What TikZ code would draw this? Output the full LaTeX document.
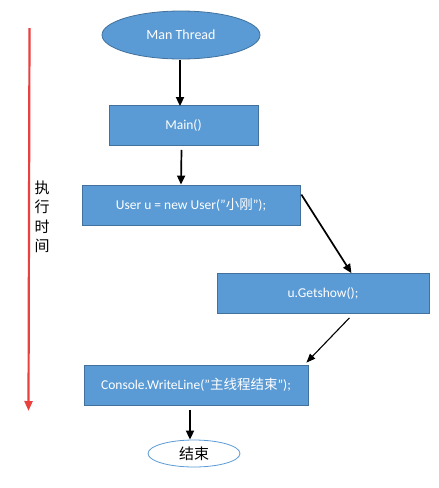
\documentclass[tikz,border=0pt]{standalone}
\usepackage{fontspec}
\setmainfont{Carlito}
\newfontfamily\cjk{Noto Sans CJK SC}
\usetikzlibrary{shapes.geometric,arrows.meta}
\definecolor{officeblue}{HTML}{5B9BD5}
\definecolor{officeedge}{HTML}{41719C}
\definecolor{timered}{HTML}{E8413E}
\begin{document}
\begin{tikzpicture}[x=1pt,y=-1pt,
  bluebox/.style={draw=officeedge,fill=officeblue,text=white,line width=0.8pt,minimum height=40pt,font=\fontsize{13.5}{15}\selectfont},
  flow/.style={line width=1.7pt,-{Triangle[length=9pt,width=8pt]}},
  thinflow/.style={line width=1.1pt,-{Triangle[length=9pt,width=7pt]}}]
\useasboundingbox (0,0) rectangle (439,488);
\node[ellipse,draw=officeedge,fill=officeblue,text=white,line width=0.8pt,minimum width=158pt,minimum height=48pt,inner sep=0pt,font=\fontsize{14}{16}\selectfont] (start) at (181,35) {Man Thread};
\node[bluebox,minimum width=149pt] (main) at (183.5,125.5) {Main()};
\node[bluebox,minimum width=218pt] (user) at (191,205) {User u = new User("{\cjk 小刚}");};
\node[bluebox,minimum width=212pt] (show) at (323,293.5) {u.Getshow();};
\node[bluebox,minimum width=224pt] (cons) at (196,385) {Console.WriteLine("{\cjk 主线程结束}");};
\node[ellipse,draw=officeblue,fill=white,line width=0.8pt,minimum width=92pt,minimum height=27pt,inner sep=0pt,font=\cjk\fontsize{15}{17}\selectfont] (end) at (194,453.5) {结束};
\draw[flow] ([shift={(-1,1)}]start.south) -- ([shift={(-3.5,1)}]main.north);
\draw[flow] ([shift={(-2,4)}]main.south) -- ([shift={(-10,0)}]user.north);
\draw[flow] ([shift={(1,10)}]user.north east) -- ([shift={(-78,0)}]show.north east);
\draw[thinflow] ([shift={(-80,4)}]show.south east) -- ([shift={(-2,-2)}]cons.north east);
\draw[flow] ([shift={(-6,5)}]cons.south) -- ([shift={(-4,0)}]end.north);
\coordinate (rtop) at (29.5,28);
\coordinate (rbot) at (28.5,411);
\draw[timered,line width=2.2pt,-{Triangle[length=10pt,width=8pt]}] (rtop) -- (rbot);
\node[font=\cjk\fontsize{15}{19.5}\selectfont,align=center,inner sep=0pt] (lbl) at (42,217) {执\\行\\时\\间};
\end{tikzpicture}
\end{document}
